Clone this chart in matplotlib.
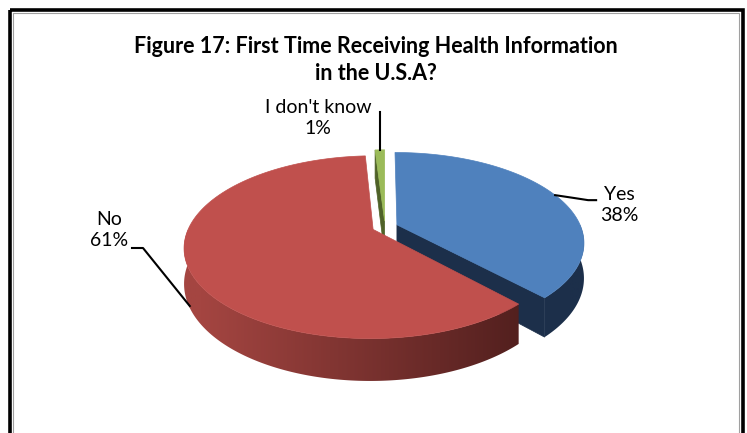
import numpy as np
import matplotlib.pyplot as plt
from matplotlib.patches import Polygon, Rectangle
from matplotlib.colors import to_rgb

# --- Data ---
labels = ['Yes', 'No', "I don't know"]
values = [38, 61, 1]
top_colors = ['#4F81BD', '#C0504D', '#9BBB59']
side_light = ['#22395A', '#A44541', '#5A7232']
side_dark = ['#1C2F4A', '#461A19', '#4F6228']
explode = [0.07, 0.07, 0.07]
title = 'Figure 17: First Time Receiving Health Information\nin the U.S.A?'

# --- Layout (pixels) ---
W, H = 747, 433
CX, CY = 385, 227      # pie centre
A, B = 184, 87         # horizontal / depth radius
P = 0.193              # perspective strength
T = 34                 # thickness of the pie
FONT = 'Lato'


def proj(u, v, h=0.0):
    s = 1.0 / (1.0 + P * v)
    return CX + A * u * s, CY - B * v * s + T * h * s


fig = plt.figure(figsize=(W / 100, H / 100), dpi=100)
ax = fig.add_axes([0, 0, 1, 1])
ax.axis('off')

# slice angles, clockwise from 12 o'clock
total = float(sum(values))
bounds = np.concatenate([[0], np.cumsum(values) / total * 360.0])
slices = []
for i in range(len(values)):
    t0, t1 = bounds[i], bounds[i + 1]
    mid = np.radians((t0 + t1) / 2)
    du, dv = explode[i] * np.sin(mid), explode[i] * np.cos(mid)
    slices.append((t0, t1, du, dv))


def rim(t, du, dv, h=0.0):
    r = np.radians(t)
    return proj(np.sin(r) + du, np.cos(r) + dv, h)


def gradient_fill(pts, c1, c2):
    # horizontal shading across the whole pie width, clipped to the face
    poly = Polygon(pts, closed=True, facecolor='none', edgecolor='none')
    ax.add_patch(poly)
    pad = 60
    xs = np.linspace(-pad / (2 * A), 1 + pad / (2 * A), 400)
    xs = np.clip(xs, 0, 1)
    a, b = np.array(to_rgb(c1)), np.array(to_rgb(c2))
    img = (a[None, :] + (b - a)[None, :] * xs[:, None])[None, :, :]
    im = ax.imshow(img, extent=[CX - A - pad, CX + A + pad, 0, H], aspect='auto',
                   interpolation='bilinear', zorder=poly.get_zorder())
    im.set_clip_path(poly)


def draw_slice(i):
    t0, t1, du, dv = slices[i]
    apex = proj(du, dv)
    apex_b = proj(du, dv, 1)
    # cut faces that turn toward the viewer
    for t, sign in ((t0, -1), (t1, 1)):
        r = np.radians(t)
        nv = -sign * np.sin(r)
        if nv < -0.01:
            pts = [apex, rim(t, du, dv), rim(t, du, dv, 1), apex_b]
            ax.add_patch(Polygon(pts, closed=True, facecolor=side_dark[i],
                                 edgecolor=side_dark[i], lw=0.5))
    # outer side, front half only
    a0, a1 = max(t0, 90), min(t1, 270)
    if a1 > a0:
        ts = np.linspace(a0, a1, 200)
        pts = [rim(t, du, dv) for t in ts] + [rim(t, du, dv, 1) for t in ts[::-1]]
        gradient_fill(pts, side_light[i], side_dark[i])
    # top face
    ts = np.linspace(t0, t1, max(int(t1 - t0) * 2, 6))
    pts = [apex] + [rim(t, du, dv) for t in ts]
    ax.add_patch(Polygon(pts, closed=True, facecolor=top_colors[i],
                         edgecolor=top_colors[i], lw=0.5))


# back to front: Yes, I don't know, No
for i in (0, 2, 1):
    draw_slice(i)

# --- Leader lines and data labels ---
lw = 1.5
t0, t1, du, dv = slices[0]
x0, y0 = rim((t0 + t1) / 2, du, dv)
ax.plot([x0, x0 + 20, x0 + 33, x0 + 41], [y0, y0 + 3, y0 + 5, y0 + 5],
        color='black', lw=lw)
ax.text(619, 205, f'{labels[0]}\n{values[0]}%', ha='center', va='center',
        fontsize=14, family=FONT, linespacing=1.3)

t0, t1, du, dv = slices[1]
x1, y1 = rim((t0 + t1) / 2 - 2, du, dv, 0.95)
ax.plot([132, 143, x1], [248, 248, y1], color='black', lw=lw)
ax.text(109, 230, f'{labels[1]}\n{values[1]}%', ha='center', va='center',
        fontsize=14, family=FONT, linespacing=1.3)

t0, t1, du, dv = slices[2]
x2, y2 = rim((t0 + t1) / 2, du, dv)
ax.plot([x2, x2], [y2, 112], color='black', lw=lw)
ax.text(318, 118, f'{labels[2]}\n{values[2]}%', ha='center', va='center',
        fontsize=14, family=FONT, linespacing=1.3)

# --- Title ---
ax.text(376, 60, title, ha='center', va='center', fontsize=15.5,
        fontweight='bold', family=FONT, linespacing=1.38)

# --- Chart border (bottom edge falls outside the picture) ---
ax.add_patch(Rectangle((9.5, 9.5), 733, 460, fill=False, edgecolor='black',
                       lw=2.6, clip_on=False))
ax.add_patch(Rectangle((12.5, 12.5), 726, 460, fill=False, edgecolor='#A0A0A0',
                       lw=0.8, clip_on=False))

ax.set_xlim(0, W)
ax.set_ylim(H, 0)
fig.savefig('out.png', dpi=100)
